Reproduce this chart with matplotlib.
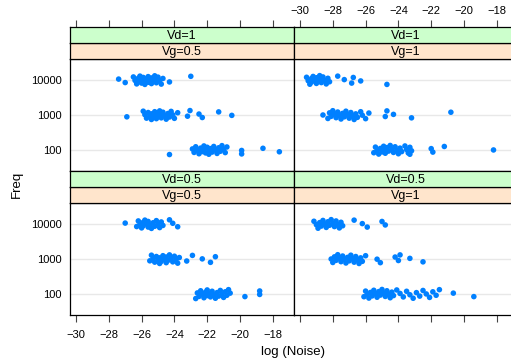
import numpy as np
import matplotlib
matplotlib.use("Agg")
from matplotlib import pyplot as plt

plt.rcParams['font.family'] = ['Liberation Sans', 'DejaVu Sans']

freq_labels = ['100', '1000', '10000']

# log(Noise) values per panel, rows are Freq 100 / 1000 / 10000
ul_100 = [-24.3, -22.9, -22.8, -22.7, -22.6, -22.5, -22.4, -22.3, -22.2, -22.2, -22.1, -22.0,
          -21.9, -21.9, -21.8, -21.7, -21.6, -21.5, -21.4, -21.3, -21.2, -21.1, -21.0, -20.9,
          -20.8, -19.9, -19.9, -18.6, -17.6]
ul_1000 = [-26.9, -25.9, -25.8, -25.7, -25.6, -25.5, -25.4, -25.4, -25.3, -25.2, -25.2, -25.1,
           -25.0, -25.0, -24.9, -24.8, -24.8, -24.7, -24.6, -24.5, -24.4, -24.3, -24.2, -24.1,
           -24.0, -23.8, -23.2, -23.05, -22.5, -22.3, -21.3, -20.5]
ul_10000 = [-27.4, -27.0, -26.5, -26.4, -26.3, -26.2, -26.2, -26.1, -26.0, -26.0, -25.9, -25.8,
            -25.8, -25.7, -25.6, -25.6, -25.5, -25.4, -25.4, -25.3, -25.2, -25.2, -25.1, -25.0,
            -24.9, -24.8, -24.7, -24.3, -23.0]

ur_100 = [-25.5, -25.4, -25.3, -25.2, -25.1, -25.0, -24.9, -24.8, -24.8, -24.7, -24.6, -24.5,
          -24.4, -24.3, -24.2, -24.1, -24.0, -23.9, -23.8, -23.6, -23.5, -23.4, -23.3, -23.2,
          -23.3, -22.0, -21.9, -21.2, -18.2]
ur_1000 = [-28.6, -28.3, -28.2, -28.1, -28.0, -27.9, -27.8, -27.7, -27.6, -27.5, -27.4, -27.3,
           -27.2, -27.1, -27.0, -26.9, -26.8, -26.7, -26.6, -26.5, -26.3, -26.2, -26.0, -25.8,
           -24.8, -24.7, -24.3, -23.2, -20.8]
ur_10000 = [-29.6, -29.5, -29.4, -29.3, -29.3, -29.2, -29.1, -29.0, -29.0, -28.9, -28.8, -28.8,
            -28.7, -28.6, -28.5, -28.4, -28.3, -28.2, -27.7, -27.3, -26.85, -26.75, -26.3, -24.7]

ll_100 = [-22.7, -22.6, -22.5, -22.4, -22.3, -22.2, -22.1, -22.0, -22.0, -21.9, -21.8, -21.7,
          -21.6, -21.5, -21.4, -21.3, -21.2, -21.1, -21.0, -20.9, -20.8, -20.7, -20.6, -19.7,
          -18.8, -18.8]
ll_1000 = [-25.5, -25.4, -25.3, -25.2, -25.1, -25.0, -24.9, -24.9, -24.8, -24.7, -24.6, -24.5,
           -24.5, -24.4, -24.3, -24.2, -24.1, -24.0, -23.9, -23.8, -23.7, -23.25, -22.9, -22.3,
           -21.8, -21.5]
ll_10000 = [-27.0, -26.3, -26.2, -26.1, -26.0, -25.9, -25.9, -25.8, -25.7, -25.6, -25.6, -25.5,
            -25.4, -25.3, -25.2, -25.1, -25.0, -24.9, -24.8, -24.7, -24.3, -24.1, -23.8]

lr_100 = [-26.1, -26.0, -25.9, -25.8, -25.7, -25.6, -25.5, -25.4, -25.3, -25.2, -25.1, -25.0,
          -24.9, -24.8, -24.7, -24.6, -24.5, -24.4, -24.3, -24.1, -23.9, -23.7, -23.5, -23.3,
          -23.1, -22.9, -22.7, -22.5, -22.3, -22.1, -21.9, -21.7, -21.5, -20.65, -19.4]
lr_1000 = [-28.1, -28.0, -27.9, -27.8, -27.7, -27.6, -27.5, -27.4, -27.3, -27.2, -27.1, -27.0,
           -26.9, -26.8, -26.7, -26.6, -26.5, -26.4, -26.3, -26.2, -26.0, -25.3, -25.1, -24.2,
           -24.0, -23.9, -23.3, -22.5]
lr_10000 = [-29.15, -29.0, -28.9, -28.8, -28.7, -28.6, -28.5, -28.4, -28.3, -28.2, -28.1, -28.0,
            -27.9, -27.8, -27.7, -27.6, -27.5, -27.4, -26.7, -26.2, -25.9, -25.0, -24.8]

panels = [
    # (vd, vg, data, column, row)
    ('Vd=1', 'Vg=0.5', [ul_100, ul_1000, ul_10000], 0, 0),
    ('Vd=1', 'Vg=1', [ur_100, ur_1000, ur_10000], 1, 0),
    ('Vd=0.5', 'Vg=0.5', [ll_100, ll_1000, ll_10000], 0, 1),
    ('Vd=0.5', 'Vg=1', [lr_100, lr_1000, lr_10000], 1, 1),
]

W, H = 511, 362
fig = plt.figure(figsize=(W / 100, H / 100), dpi=100)

col_left = [70, 294]
panel_w = 224
row_top = [59, 203]     # top of data area
panel_h = 112
strip_h = 16

xlim = (-30 - 6 / 16.4, -30 - 6 / 16.4 + panel_w / 16.4)
xticks = np.arange(-30, -17, 2)
point_col = '#0080ff'


def fig_rect(x, y, w, h):
    return [x / W, 1 - (y + h) / H, w / W, h / H]


for vd, vg, rows, c, r in panels:
    x0 = col_left[c]
    y0 = row_top[r]
    ax = fig.add_axes(fig_rect(x0, y0, panel_w, panel_h))
    ax.set_xlim(xlim)
    ax.set_ylim(0.4, 3.6)
    for k in range(3):
        ax.axhline(k + 1, color='#e8e8e8', lw=1, zorder=0)
        xs = np.array(rows[k])
        n = len(xs)
        # small deterministic jitter in y (golden ratio sequence)
        jit = ((np.arange(n) * 0.618034 + 0.3 * k + 0.2 * c) % 1 * 2 - 1) * 0.13
        ax.scatter(xs, k + 1 + jit, s=16, color=point_col, edgecolors='none', zorder=3)
    ax.set_yticks([1, 2, 3])
    ax.tick_params(axis='y', length=0, labelsize=8, pad=6)
    if c == 0:
        ax.set_yticklabels(freq_labels)
    else:
        ax.set_yticklabels([])
    ax.set_xticks(xticks)
    if r == 1:
        ax.tick_params(axis='x', direction='out', length=5, width=0.8, color='#444444',
                       labelsize=8, pad=6, labelbottom=(c == 0))
    else:
        ax.tick_params(axis='x', length=0, labelbottom=False)
    for sp in ax.spines.values():
        sp.set_linewidth(0.9)

    # strips: orange (Vg) next to panel, green (Vd) above
    sg = fig.add_axes(fig_rect(x0, y0 - strip_h, panel_w, strip_h))
    sg.set_facecolor('#ffe5cc')
    sg.text(0.5, 0.45, vg, ha='center', va='center', fontsize=9, transform=sg.transAxes)
    sg.set_xticks([])
    sg.set_yticks([])
    sd = fig.add_axes(fig_rect(x0, y0 - 2 * strip_h, panel_w, strip_h))
    sd.set_facecolor('#ccffcc')
    sd.text(0.5, 0.45, vd, ha='center', va='center', fontsize=9, transform=sd.transAxes)
    sd.set_yticks([])
    sd.set_xlim(xlim)
    sd.set_xticks(xticks)
    if r == 0:
        sd.xaxis.set_ticks_position('top')
        sd.tick_params(axis='x', direction='out', length=5, width=0.8, color='#444444',
                       labelsize=8, pad=3, labeltop=(c == 1), labelbottom=False)
    else:
        sd.tick_params(axis='x', length=0, labelbottom=False)
    for s in (sg, sd):
        for sp in s.spines.values():
            sp.set_linewidth(0.9)

fig.text(17 / W, 1 - 184 / H, 'Freq', rotation=90, ha='center', va='center', fontsize=9.5)
fig.text(293 / W, 1 - 352 / H, 'log (Noise)', ha='center', va='center', fontsize=9.5)

plt.savefig('out.png', dpi=100)
